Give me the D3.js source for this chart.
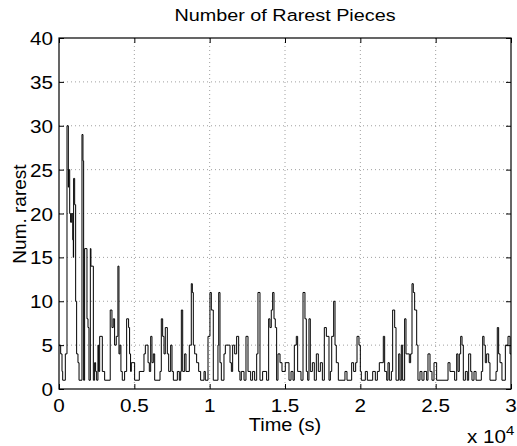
<!DOCTYPE html>
<html>
<head>
<meta charset="utf-8">
<script src="https://cdn.jsdelivr.net/npm/d3@7/dist/d3.min.js"></script>
<style>
  body { margin: 0; background: #fff; }
  text { font-family: "Liberation Sans", Arial, Helvetica, sans-serif; fill: #000; }
</style>
</head>
<body>
<div id="chart"></div>
<script>
// change points of the step series: time (s) -> number of rarest pieces
const times = [
  0, 110, 200, 245, 420, 530, 620, 640, 710, 770, 840, 910, 950, 970, 1040, 1105, 1170, 1260, 1330,
  1525, 1590, 1635, 1700, 1857, 1925, 1990, 2080, 2120, 2280, 2365, 2430, 2500, 2585, 2630, 2700,
  2875, 3030, 3400, 3515, 3600, 3690, 3800, 3910, 3980, 4045, 4110, 4200, 4355, 4490, 4620, 4685,
  4750, 4800, 5020, 5330, 5640, 5730, 5910, 5995, 6085, 6170, 6260, 6350, 6705, 6790, 6880, 6970,
  7055, 7190, 7280, 7410, 7500, 7590, 7855, 7985, 8075, 8120, 8210, 8340, 8430, 8650, 8780, 8850,
  8915, 9005, 9135, 9270, 9400, 9625, 9710, 9890, 10020, 10110, 10240, 10550, 10600, 10685, 10775,
  10950, 11040, 11350, 11440, 11525, 11660, 11790, 11925, 12010, 12100, 12280, 12410, 12545, 12720,
  12850, 12985, 13120, 13205, 13340, 13515, 13780, 13915, 14000, 14090, 14180, 14270, 14355, 14445,
  14535, 14670, 14800, 15020, 15265, 15400, 15530, 15620, 15750, 15840, 16060, 16195, 16325, 16415,
  16505, 16590, 16680, 16815, 16945, 17080, 17210, 17345, 17480, 17610, 17745, 17920, 18010, 18100,
  18230, 18320, 18405, 18540, 18980, 19115, 19425, 19555, 19690, 19780, 19910, 20000, 20065, 20330,
  20465, 20820, 20995, 21130, 21260, 21525, 21615, 21750, 21835, 21925, 22060, 22145, 22280, 22370,
  22545, 22630, 22720, 22810, 22940, 23030, 23250, 23340, 23430, 23515, 23605, 23740, 23825, 23960,
  24090, 24225, 24400, 24490, 24625, 24755, 24890, 25065, 25820, 25950, 26260, 26395, 26480, 26570,
  26660, 26750, 26835, 26970, 27100, 27190, 27325, 27410, 27545, 27680, 28030, 28120, 28210, 28295,
  28385, 28520, 28605, 29005, 29090, 29180, 29270, 29400, 29625, 29800, 29935, 30000
];
const counts = [
  5, 4, 2, 1, 4, 30, 23, 25, 20, 19, 20, 17, 15, 24, 21, 10, 4, 3, 1,
  29, 26, 1, 16, 8, 7, 1, 16, 14, 1, 3, 2, 1, 5, 2, 6,
  2, 1, 9, 7, 8, 5, 6, 14, 4, 5, 2, 1, 2, 8, 7, 4,
  2, 3, 1, 2, 4, 5, 3, 2, 6, 3, 4, 1, 2, 8, 6, 4,
  7, 4, 2, 5, 2, 1, 2, 1, 2, 9, 2, 4, 2, 5, 12, 11,
  5, 4, 3, 2, 1, 2, 1, 6, 11, 9, 1, 5, 11, 3, 1,
  4, 5, 3, 2, 5, 4, 6, 2, 1, 2, 1, 6, 2, 1,
  2, 1, 4, 11, 1, 2, 1, 8, 7, 9, 11, 8, 7, 1,
  4, 3, 2, 3, 1, 2, 1, 5, 6, 2, 1, 11, 8, 2,
  1, 8, 2, 3, 1, 4, 2, 3, 1, 7, 6, 1, 2, 6,
  10, 5, 3, 1, 2, 1, 3, 2, 3, 6, 5, 2, 1, 2,
  1, 2, 1, 2, 3, 6, 2, 1, 3, 1, 2, 9, 7, 1,
  4, 1, 5, 1, 8, 4, 3, 4, 12, 11, 9, 5, 1, 2,
  1, 2, 1, 4, 2, 1, 3, 1, 3, 2, 1, 4, 2, 4,
  6, 5, 1, 2, 1, 4, 2, 1, 2, 1, 2, 6, 5, 3,
  4, 3, 1, 2, 7, 4, 3, 1, 5, 6, 4, 4
];

const xTicks = [0, 5000, 10000, 15000, 20000, 25000, 30000];
const xTickLabels = ["0", "0.5", "1", "1.5", "2", "2.5", "3"];
const yTicks = [0, 5, 10, 15, 20, 25, 30, 35, 40];

const W = 517, H = 446;
const margin = { top: 38, right: 6, bottom: 57, left: 59 };
const width = W - margin.left - margin.right;
const height = H - margin.top - margin.bottom;

const data = times.map((t, i) => ({ t: t, v: counts[i] }));

const svg = d3.select("#chart").append("svg")
  .attr("width", W)
  .attr("height", H);

const g = svg.append("g")
  .attr("transform", `translate(${margin.left},${margin.top})`);

const x = d3.scaleLinear().domain([0, 30000]).range([0, width]);
const y = d3.scaleLinear().domain([0, 40]).range([height, 0]);

// dotted grid
g.append("g")
  .selectAll("line")
  .data(xTicks.slice(1, -1))
  .join("line")
  .attr("x1", d => x(d)).attr("x2", d => x(d))
  .attr("y1", 0).attr("y2", height)
  .attr("stroke", "#888").attr("stroke-width", 0.8)
  .attr("stroke-dasharray", "1,3");

g.append("g")
  .selectAll("line")
  .data(yTicks.slice(1, -1))
  .join("line")
  .attr("x1", 0).attr("x2", width)
  .attr("y1", d => y(d)).attr("y2", d => y(d))
  .attr("stroke", "#888").attr("stroke-width", 0.8)
  .attr("stroke-dasharray", "1,3");

// the step series
const line = d3.line()
  .x(d => x(d.t))
  .y(d => y(d.v))
  .curve(d3.curveStepAfter);

g.append("path")
  .datum(data)
  .attr("fill", "none")
  .attr("stroke", "#000")
  .attr("stroke-width", 1)
  .attr("d", line);

// inward ticks on all four sides
const tk = 5;
g.append("g").attr("transform", `translate(0,${height})`)
  .call(d3.axisBottom(x).tickValues(xTicks).tickSize(-tk).tickFormat(""));
g.append("g")
  .call(d3.axisTop(x).tickValues(xTicks).tickSize(-tk).tickFormat(""));
g.append("g")
  .call(d3.axisLeft(y).tickValues(yTicks).tickSize(-tk).tickFormat(""));
g.append("g").attr("transform", `translate(${width},0)`)
  .call(d3.axisRight(y).tickValues(yTicks).tickSize(-tk).tickFormat(""));
g.selectAll(".domain").remove();
g.selectAll(".tick line").attr("stroke", "#000").attr("stroke-width", 1);

g.append("rect")
  .attr("width", width).attr("height", height)
  .attr("fill", "none").attr("stroke", "#000").attr("stroke-width", 1.2);

// text, slightly stretched sideways like the original export
const stretch = 1.15;
function label(px, py, txt, size, anchor, sx) {
  return svg.append("text")
    .attr("transform", `translate(${px},${py}) scale(${sx},1)`)
    .attr("text-anchor", anchor)
    .style("font-size", size + "px")
    .text(txt);
}

xTicks.forEach((d, i) => {
  label(margin.left + x(d), 412, xTickLabels[i], 18, "middle", stretch);
});
yTicks.forEach(d => {
  label(53, margin.top + y(d) + 7, d, 18, "end", stretch);
});

label(285, 21, "Number of Rarest Pieces", 16.5, "middle", 1.2);
label(285, 431, "Time (s)", 18.5, "middle", 1.08);

const exp = svg.append("text")
  .attr("transform", `translate(467,443) scale(${stretch},1)`)
  .style("font-size", "18px");
exp.append("tspan").text("x 10");
exp.append("tspan").attr("dy", -8).style("font-size", "13px").text("4");

svg.append("text")
  .attr("transform", "translate(26,214) rotate(-90)")
  .attr("text-anchor", "middle")
  .style("font-size", "19px")
  .text("Num. rarest");
</script>
</body>
</html>
